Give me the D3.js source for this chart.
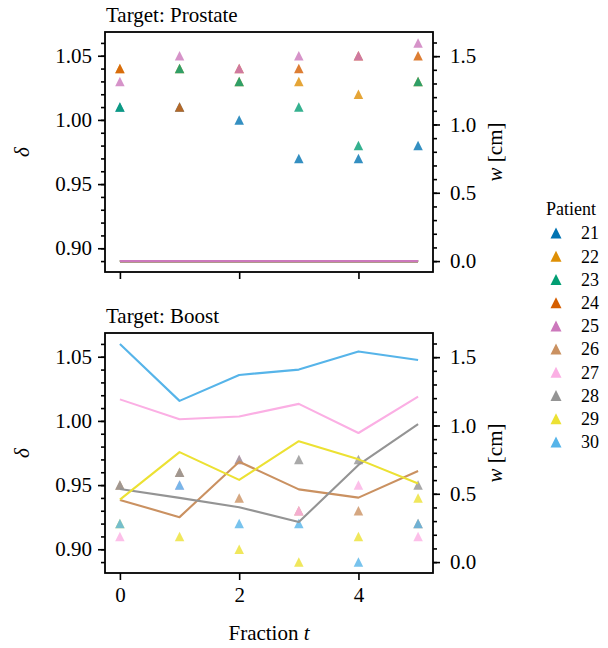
<!DOCTYPE html>
<html>
<head>
<meta charset="utf-8">
<script src="https://cdn.jsdelivr.net/npm/d3@7"></script>
<style>
  body { margin: 0; background: #fff; }
  svg { display: block; }
  text { font-family: "Liberation Serif", "DejaVu Serif", serif; fill: #000; }
</style>
</head>
<body>
<svg id="chart" width="608" height="648"></svg>
<script>
// ---- data -------------------------------------------------------------
const fractions = [0, 1, 2, 3, 4, 5];
const patients = [21, 22, 23, 24, 25, 26, 27, 28, 29, 30];
const patientColors = ["#0173B2", "#DE8F05", "#029E73", "#D55E00", "#CC78BC",
                       "#CA9161", "#FBAFE4", "#949494", "#ECE133", "#56B4E9"];

// Prostate target: dose ratio delta per fraction (rows = patients 21..25)
const prostatePatients = [21, 22, 23, 24, 25];
const prostateDelta = [
  [1.01, 1.01, 1.00, 0.97, 0.97, 0.98],
  [1.04, 1.04, 1.03, 1.03, 1.02, 1.03],
  [1.01, 1.04, 1.03, 1.01, 0.98, 1.03],
  [1.04, 1.01, 1.04, 1.04, 1.05, 1.05],
  [1.03, 1.05, 1.04, 1.05, 1.05, 1.06]
];
const prostateWidth = [
  [0, 0, 0, 0, 0, 0],
  [0, 0, 0, 0, 0, 0],
  [0, 0, 0, 0, 0, 0],
  [0, 0, 0, 0, 0, 0],
  [0, 0, 0, 0, 0, 0]
];

// Boost target (rows = patients 26..30)
const boostPatients = [26, 27, 28, 29, 30];
const boostDelta = [
  [0.95, 0.96, 0.94, 0.93, 0.93, 0.92],
  [0.91, 0.95, 0.97, 0.93, 0.95, 0.91],
  [0.95, 0.96, 0.97, 0.97, 0.97, 0.95],
  [0.92, 0.91, 0.90, 0.89, 0.91, 0.94],
  [0.92, 0.95, 0.92, 0.92, 0.89, 0.92]
];
const boostWidth = [
  [0.455, 0.329, 0.735, 0.532, 0.472, 0.667],
  [1.191, 1.046, 1.066, 1.158, 0.945, 1.211],
  [0.535, 0.470, 0.402, 0.293, 0.711, 1.010],
  [0.457, 0.805, 0.602, 0.885, 0.752, 0.575],
  [1.597, 1.180, 1.370, 1.409, 1.542, 1.479]
];

const deltaTicks = [0.90, 0.95, 1.00, 1.05];
const widthTicks = [0.0, 0.5, 1.0, 1.5];
const fractionTicks = [0, 2, 4];

const panels = [
  { title: "Target: Prostate", ids: prostatePatients, delta: prostateDelta, width: prostateWidth, top: 32 },
  { title: "Target: Boost",    ids: boostPatients,    delta: boostDelta,    width: boostWidth,    top: 333 }
];

// ---- layout -----------------------------------------------------------
const left = 105, right = 433, panelH = 240;
const FS = 21, LEG_FS = 18;

const svg = d3.select("#chart");
const colorOf = id => patientColors[patients.indexOf(id)];

// 5% padding on each side, like the default autoscale margins
const padded = ([a, b]) => { const m = (b - a) * 0.05; return [a - m, b + m]; };

const allDelta = panels.flatMap(p => p.delta.flat());
const allWidth = panels.flatMap(p => p.width.flat());
const x = d3.scaleLinear().domain(padded(d3.extent(fractions))).range([left, right]);
const deltaDomain = padded(d3.extent(allDelta));
const widthDomain = padded(d3.extent(allWidth));

const tri = s => `M0,${-s / 2}L${s / 2},${s / 2}L${-s / 2},${s / 2}Z`;

function styleAxis(g) {
  g.select(".domain").remove();
  g.selectAll(".tick line").attr("stroke", "#000").attr("stroke-width", 1.6);
  g.selectAll("text").attr("font-size", FS).attr("font-family", "Liberation Serif");
}

panels.forEach((p, pi) => {
  const bottom = p.top + panelH;
  const yD = d3.scaleLinear().domain(deltaDomain).range([bottom, p.top]);
  const yW = d3.scaleLinear().domain(widthDomain).range([bottom, p.top]);
  const g = svg.append("g");

  // scatter of delta (left axis)
  p.ids.forEach((id, i) => {
    g.append("g").selectAll("path")
      .data(fractions.map((t, k) => ({ t, v: p.delta[i][k] })))
      .join("path")
      .attr("d", tri(9.5))
      .attr("transform", d => `translate(${x(d.t)},${yD(d.v)})`)
      .attr("fill", colorOf(id))
      .attr("fill-opacity", 0.8);
  });

  // lines of w (right axis), drawn above the markers
  const line = d3.line().x((d, k) => x(fractions[k])).y(d => yW(d));
  p.ids.forEach((id, i) => {
    g.append("path")
      .datum(p.width[i])
      .attr("d", line)
      .attr("fill", "none")
      .attr("stroke", colorOf(id))
      .attr("stroke-width", 2.1)
      .attr("stroke-linejoin", "round");
  });

  // left axis: major + minor
  g.append("g").attr("transform", `translate(${left},0)`)
    .call(d3.axisLeft(yD).tickValues(deltaTicks).tickSize(7).tickPadding(6).tickFormat(d3.format(".2f")))
    .call(styleAxis);
  g.append("g").attr("transform", `translate(${left},0)`)
    .call(d3.axisLeft(yD).tickValues(yD.ticks(20)).tickSize(4).tickFormat(""))
    .call(styleAxis);

  // right axis: major + minor
  g.append("g").attr("transform", `translate(${right},0)`)
    .call(d3.axisRight(yW).tickValues(widthTicks).tickSize(7).tickPadding(10).tickFormat(d3.format(".1f")))
    .call(styleAxis);
  g.append("g").attr("transform", `translate(${right},0)`)
    .call(d3.axisRight(yW).tickValues(yW.ticks(20)).tickSize(4).tickFormat(""))
    .call(styleAxis);

  // bottom axis (labels only on the lower panel)
  g.append("g").attr("transform", `translate(0,${bottom})`)
    .call(d3.axisBottom(x).tickValues(fractionTicks).tickSize(7).tickPadding(7)
      .tickFormat(pi === panels.length - 1 ? d3.format("d") : ""))
    .call(styleAxis);

  // frame
  g.append("rect")
    .attr("x", left).attr("y", p.top)
    .attr("width", right - left).attr("height", panelH)
    .attr("fill", "none").attr("stroke", "#000").attr("stroke-width", 1.8);

  // title
  g.append("text")
    .attr("x", left + 1).attr("y", p.top - 10)
    .attr("font-size", FS)
    .text(p.title);

  // axis labels
  const mid = p.top + panelH / 2;
  g.append("text")
    .attr("transform", `translate(29,${mid}) rotate(-90)`)
    .attr("text-anchor", "middle")
    .attr("font-size", FS).attr("font-style", "italic")
    .text("δ");
  const wl = g.append("text")
    .attr("transform", `translate(502,${mid}) rotate(-90)`)
    .attr("text-anchor", "middle")
    .attr("font-size", FS);
  wl.append("tspan").attr("font-style", "italic").text("w");
  wl.append("tspan").text(" [cm]");
});

// x label
const xl = svg.append("text")
  .attr("x", (left + right) / 2).attr("y", 640)
  .attr("text-anchor", "middle")
  .attr("font-size", FS);
xl.append("tspan").text("Fraction ");
xl.append("tspan").attr("font-style", "italic").text("t");

// legend
const leg = svg.append("g");
leg.append("text")
  .attr("x", 571).attr("y", 215)
  .attr("text-anchor", "middle")
  .attr("font-size", LEG_FS)
  .text("Patient");
const legRow = d3.scaleLinear().domain([0, patients.length - 1]).range([233, 442]);
patients.forEach((id, i) => {
  leg.append("path")
    .attr("d", tri(11))
    .attr("transform", `translate(556,${legRow(i)})`)
    .attr("fill", colorOf(id));
  leg.append("text")
    .attr("x", 581).attr("y", legRow(i))
    .attr("dy", "0.35em")
    .attr("font-size", LEG_FS)
    .text(id);
});
</script>
</body>
</html>
